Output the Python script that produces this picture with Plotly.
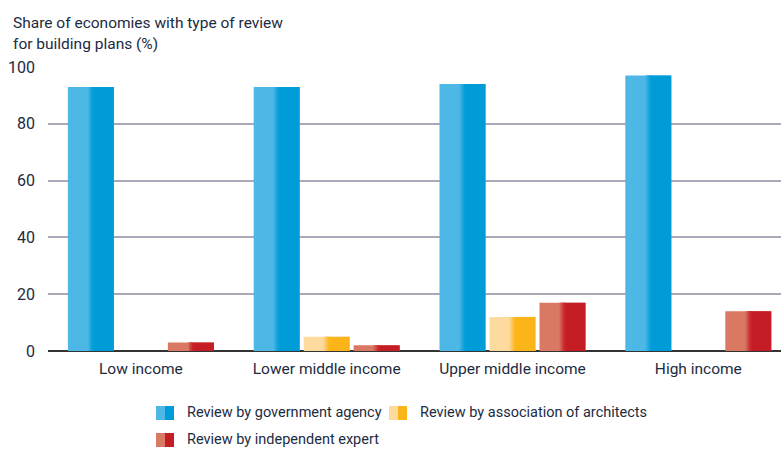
import plotly.graph_objects as go

# Data
categories = ["Low income", "Lower middle income", "Upper middle income", "High income"]
government_agency = [93, 93, 94, 97]
association_of_architects = [0, 5, 12, 0]
independent_expert = [3, 2, 17, 14]
y_ticks = [0, 20, 40, 60, 80, 100]

series_names = [
    "Review by government agency",
    "Review by association of architects",
    "Review by independent expert",
]
series_values = [government_agency, association_of_architects, independent_expert]
# (light, dark) pair per series: each bar is shaded from light on the left to dark on the right
series_colors = [
    ("#4db8e6", "#009cd8"),
    ("#fdda9e", "#fbb519"),
    ("#d97863", "#c51d26"),
]

TEXT = "#1c2b3f"
FONT = "Roboto"
FS = 15.5
FS_LEGEND = 14.5

W, H = 781, 450
L, R, T, B = 48, 0, 67, 99

BAR_W = 0.2476
BAR_STEP = 0.2691
GROUP_LEFT = -0.393


def hex_to_rgb(h):
    h = h.lstrip("#")
    return tuple(int(h[i:i + 2], 16) for i in (0, 2, 4))


def mix(c1, c2, t):
    a, b = hex_to_rgb(c1), hex_to_rgb(c2)
    return "rgb(%d,%d,%d)" % tuple(round(a[k] + (b[k] - a[k]) * t) for k in range(3))


fig = go.Figure()

# Strips that make up one shaded bar: (start fraction, width fraction, mix amount)
strips = [(0.0, 1.0, 0.0), (0.56, 0.44, 1.0)]
n_steps = 6
for s in range(n_steps):
    strips.append((0.44 + s * 0.12 / n_steps, 0.12 / n_steps + 0.004, (s + 0.5) / n_steps))

for i, (vals, (light, dark)) in enumerate(zip(series_values, series_colors)):
    left = GROUP_LEFT + i * BAR_STEP
    for start, width, t in strips:
        fig.add_trace(go.Bar(
            x=categories,
            y=vals,
            offset=left + start * BAR_W,
            width=width * BAR_W,
            marker=dict(color=mix(light, dark, t), line=dict(width=0)),
            showlegend=False,
            hoverinfo="skip",
        ))

fig.update_layout(
    width=W, height=H,
    margin=dict(l=L, r=R, t=T, b=B, pad=0),
    barmode="overlay",
    plot_bgcolor="white",
    paper_bgcolor="white",
    font=dict(family=FONT, size=FS, color=TEXT),
    showlegend=False,
)

fig.update_xaxes(
    range=[-0.5, 3.445],
    showgrid=False,
    showline=False,
    ticks="",
    ticklabelstandoff=6,
    tickfont=dict(family=FONT, size=FS, color=TEXT),
    fixedrange=True,
)
fig.update_yaxes(
    range=[0, 100],
    tickvals=y_ticks,
    showgrid=True,
    gridcolor="#aaa8b9",
    gridwidth=1.5,
    zeroline=True,
    zerolinecolor="#333333",
    zerolinewidth=2,
    showline=False,
    ticks="",
    ticklabelstandoff=12,
    tickfont=dict(family=FONT, size=16, color=TEXT),
    fixedrange=True,
)


def px_to_paper(px, py):
    return (px - L) / (W - L - R), (H - B - py) / (H - T - B)


# Axis title at the top-left
for line, cy in (("Share of economies with type of review", 23), ("for building plans (%)", 44)):
    tx, ty = px_to_paper(11, cy)
    fig.add_annotation(
        text=line, xref="paper", yref="paper", x=tx, y=ty,
        xanchor="left", yanchor="middle", align="left", showarrow=False,
        font=dict(family=FONT, size=FS, color=TEXT),
    )

# Legend drawn as two-tone keys with labels
legend_items = [
    (156, 413, 0),
    (389, 413, 1),
    (156, 440, 2),
]
for kx, ky, idx in legend_items:
    light, dark = series_colors[idx]
    x0, y0 = px_to_paper(kx, ky + 7)
    xm, _ = px_to_paper(kx + 9, ky)
    x1, y1 = px_to_paper(kx + 18, ky - 7)
    fig.add_shape(type="rect", xref="paper", yref="paper", x0=x0, x1=xm, y0=y0, y1=y1,
                  fillcolor=light, line=dict(width=0))
    fig.add_shape(type="rect", xref="paper", yref="paper", x0=xm, x1=x1, y0=y0, y1=y1,
                  fillcolor=dark, line=dict(width=0))
    tx, ty = px_to_paper(kx + 29, ky - 1)
    fig.add_annotation(
        text=series_names[idx], xref="paper", yref="paper", x=tx, y=ty,
        xanchor="left", yanchor="middle", showarrow=False,
        font=dict(family=FONT, size=FS_LEGEND, color=TEXT),
    )

fig.write_html("out.html")
